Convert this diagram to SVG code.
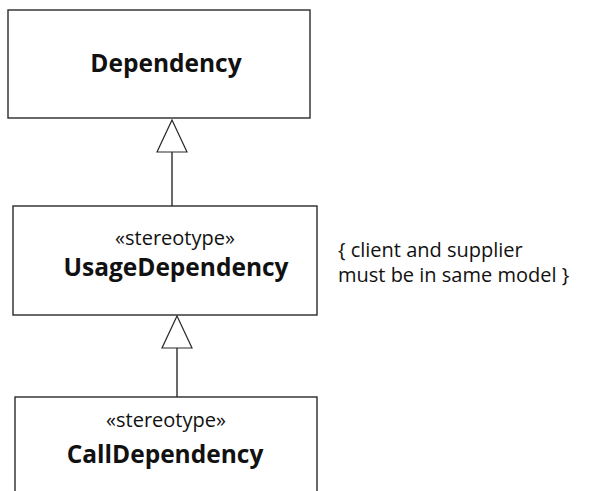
<svg xmlns="http://www.w3.org/2000/svg" width="597" height="491" viewBox="0 0 597 491">
<style>
.box{fill:#fff;stroke:#2a2a2a;stroke-width:1.4}
.ln{fill:none;stroke:#2a2a2a;stroke-width:1.4}
.head{fill:#fff;stroke:#2a2a2a;stroke-width:1.2}
.name{font-family:"Open Sans","Noto Sans",sans-serif;font-weight:bold;font-size:24.5px;fill:#111;text-anchor:middle}
.st{font-family:"Open Sans","Noto Sans",sans-serif;font-size:20px;fill:#111;text-anchor:middle}
.note{font-family:"Open Sans","Noto Sans",sans-serif;font-size:20px;fill:#111}
</style>
<rect width="597" height="491" fill="#fff"/>
<g id="connectors">
<line class="ln" x1="172" y1="152" x2="172" y2="206"/>
<polygon class="head" points="172,120 187,152 157,152"/>
<line class="ln" x1="177" y1="348" x2="177" y2="397"/>
<polygon class="head" points="177,316 192,348 162,348"/>
</g>
<g id="dependency">
<rect class="box" x="8" y="10" width="302" height="108"/>
<text class="name" x="166" y="72">Dependency</text>
</g>
<g id="usage-dependency">
<rect class="box" x="13" y="206" width="304" height="109"/>
<text class="st" x="175" y="245">«stereotype»</text>
<text class="name" x="176" y="276">UsageDependency</text>
</g>
<g id="call-dependency">
<rect class="box" x="15" y="397" width="302" height="110"/>
<text class="st" x="166" y="427">«stereotype»</text>
<text class="name" x="165" y="463">CallDependency</text>
</g>
<g id="constraint">
<text class="note" x="338" y="257">{ client and supplier</text>
<text class="note" x="338" y="282">must be in same model }</text>
</g>
</svg>
